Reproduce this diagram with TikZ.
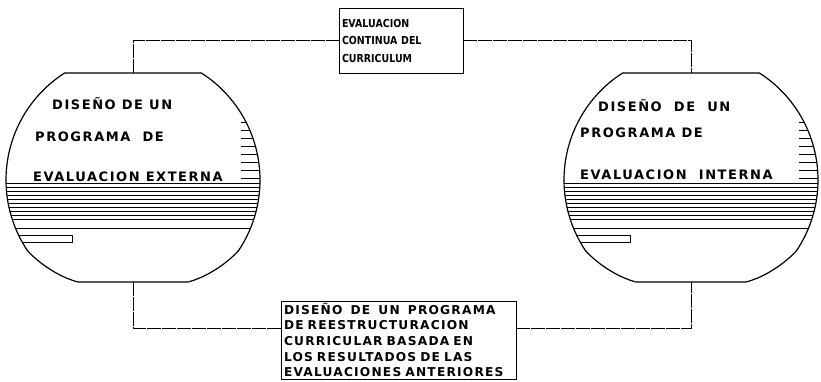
\documentclass[tikz,border=0pt]{standalone}
\usepackage{fontspec}
\setmainfont{DejaVu Sans}
\newfontfamily\circfont{DejaVu Sans}[LetterSpace=12]
\newfontfamily\boxfont{DejaVu Sans}[FakeStretch=0.86]
\newfontfamily\widebox{DejaVu Sans}[LetterSpace=10, WordSpace=1.5]
\usetikzlibrary{calc}
\tikzset{
   rim/.style={line width=1.2pt},
   hatch/.style={line width=0.5pt},
   circtext/.style={anchor=base west, inner sep=0pt, font=\circfont\bfseries\fontsize{13}{15}\selectfont},
   notebox/.style={draw, line width=0.9pt, align=left, inner xsep=2pt, inner ysep=1pt},
   link/.style={line width=0.6pt, dash pattern=on 14pt off 1pt}
}
\newcommand{\hatchdisc}[2]{
   \begin{scope}[shift={(#2)}]
      \begin{scope}
         \clip (122.6:127pt) arc[start angle=122.6, end angle=214, radius=127pt] .. controls (-93,-84) and (-74,-97) .. (-55,-102) -- (55,-102) .. controls (74,-97) and (93,-84) .. (-34:127pt) arc[start angle=-34, end angle=57.4, radius=127pt] -- cycle;
         \foreach \h in {-3,-7,...,-39}
         {
            \draw[hatch] (-130,\h) -- (130,\h);
         }
         \foreach \h in {2,10,...,58}
         {
            \draw[hatch] (108,\h) -- (130,\h);
         }
         \draw[line width=1pt] (-130,-48) -- (130,-48);
         \draw[line width=0.8pt] (-130,-55) rectangle (-61,-62);
      \end{scope}
      \draw[rim] (122.6:127pt) arc[start angle=122.6, end angle=214, radius=127pt] .. controls (-93,-84) and (-74,-97) .. (-55,-102) -- (55,-102) .. controls (74,-97) and (93,-84) .. (-34:127pt) arc[start angle=-34, end angle=57.4, radius=127pt] -- cycle;
      \coordinate (#1top) at (0,107);
      \coordinate (#1bot) at (0,-102);
   \end{scope}
}

\begin{document}
\begin{tikzpicture}[x=1pt,y=1pt]
		\useasboundingbox (0,0) rectangle (821,381);

		% Discs
		\hatchdisc{l}{133,201}
		\hatchdisc{r}{691,201}

		% Disc texts
		\node[circtext] (ext1) at (52,271.5) {DISEÑO DE UN};
		\node[circtext] (ext2) at (35,239.5) {PROGRAMA \ DE};
		\node[circtext] (ext3) at (33,199.5) {EVALUACION EXTERNA};
		%
		\node[circtext] (int1) at (598,269.5) {DISEÑO \ DE \ UN};
		\node[circtext] (int2) at (580,243.5) {PROGRAMA DE};
		\node[circtext] (int3) at (580,201.5) {EVALUACION \ INTERNA};

		% Boxes
		\node[notebox, minimum width=124pt, minimum height=65pt, text width=118pt,
		      font=\boxfont\bfseries\fontsize{11}{17.5}\selectfont] (cont) at (401,340.5)
		      {EVALUACION\\CONTINUA DEL\\CURRICULUM};
		\node[notebox, minimum width=235pt, minimum height=78pt, text width=229pt,
		      font=\widebox\bfseries\fontsize{12.2}{15.6}\selectfont] (reest) at (398.5,41)
		      {DISEÑO \ DE \ UN \ PROGRAMA\\DE REESTRUCTURACION\\CURRICULAR BASADA EN\\LOS RESULTADOS DE LAS\\EVALUACIONES ANTERIORES};

		% Links
		\draw[link] (ltop) |- (cont.west);
		\draw[link] (cont.east) -| (rtop);
		\draw[link] (lbot) |- ([yshift=12pt]reest.west);
		\draw[link] ([yshift=12pt]reest.east) -| (rbot);
\end{tikzpicture}
\end{document}
